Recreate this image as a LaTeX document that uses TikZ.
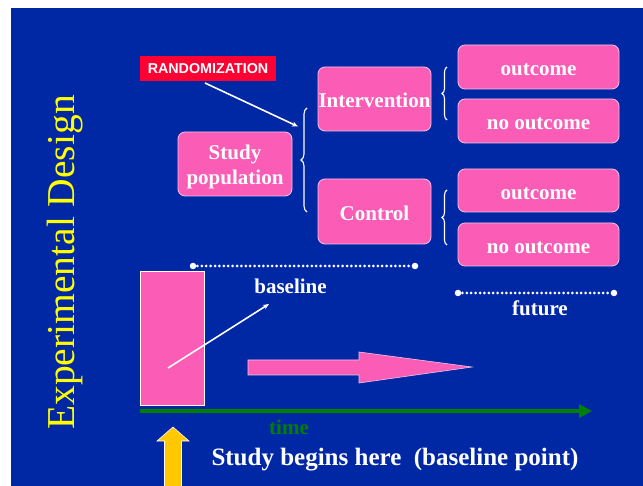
\documentclass[tikz,border=0pt]{standalone}
\usepackage{fontspec}
\setmainfont{Liberation Serif}
\newfontfamily\arialfont{Liberation Sans}
\usetikzlibrary{decorations.pathreplacing,arrows.meta}
\definecolor{slideblue}{RGB}{0,40,165}
\definecolor{boxpink}{RGB}{250,92,182}
\definecolor{boxedge}{RGB}{240,196,232}
\definecolor{randred}{RGB}{255,0,51}
\definecolor{axisgreen}{RGB}{0,128,0}
\definecolor{arrowyellow}{RGB}{255,200,0}
\definecolor{titleyellow}{RGB}{255,255,0}
\begin{document}
\begin{tikzpicture}[x=1pt,y=-1pt,
  boxframe/.style={draw=boxedge, fill=boxpink, line width=0.8pt, rounded corners=7pt,
    inner sep=0pt},
  box/.style={boxframe, text=white, align=center, text height=17.5pt, text depth=0pt,
    font=\bfseries\fontsize{21}{25}\selectfont},
  lbl/.style={text=white, inner sep=0pt, font=\bfseries\fontsize{21}{23}\selectfont},
  curly/.style={draw=white, line width=1.1pt, decorate,
    decoration={brace, amplitude=#1}},
  dotline/.style={draw=white, line width=3pt, line cap=round,
    dash pattern=on 0pt off 4.4pt},
  enddot/.style={fill=white, circle, inner sep=0pt, minimum size=6.5pt},
  pointer/.style={draw=white, line width=1.6pt, -{Stealth[length=6pt,width=5pt]}}
]
\useasboundingbox (0,0) rectangle (643,486);
\clip (0,0) rectangle (643,486);
% slide background
\fill[slideblue] (11,8) rectangle (643,486);

% vertical title
\node[rotate=90, text=titleyellow, inner sep=0pt,
  font=\fontsize{39.5}{40}\selectfont] (title) at (65.5,262.5) {Experimental Design};

% randomization tag
\node[fill=randred, text=white, minimum width=136pt, minimum height=25pt, inner sep=0pt,
  font=\arialfont\bfseries\fontsize{14.3}{15}\selectfont] (rand) at (208,68.5) {RANDOMIZATION};

% design tree
\node[boxframe, minimum width=114pt, minimum height=64pt] (pop) at (235,164) {};
\node[text=white, align=center, inner sep=0pt,
  font=\bfseries\fontsize{21}{25}\selectfont] (poptext) at (235,166.5) {Study\\population};
\node[box, minimum width=113pt, minimum height=64pt] (interv) at (374.5,99) {Intervention};
\node[box, minimum width=113pt, minimum height=65pt] (ctrl) at (374.5,211.5) {Control};
\node[box, minimum width=161pt, minimum height=44pt] (out1) at (538.5,67) {outcome};
\node[box, minimum width=161pt, minimum height=44pt] (noout1) at (538.5,121) {no outcome};
\node[box, minimum width=161pt, minimum height=43pt] (out2) at (538.5,190.5) {outcome};
\node[box, minimum width=161pt, minimum height=43pt] (noout2) at (538.5,244.5) {no outcome};

% braces
\coordinate (bigtop) at (307,108);
\coordinate (bigbot) at (307,212);
\draw[curly=6pt] (bigbot) -- (bigtop);
\coordinate (b1top) at (447,67);
\coordinate (b1bot) at (447,120);
\draw[curly=5pt] (b1bot) -- (b1top);
\coordinate (b2top) at (447,190);
\coordinate (b2bot) at (447,245);
\draw[curly=5pt] (b2bot) -- (b2top);

% randomization pointer
\coordinate (randfoot) at (205,83);
\coordinate (randtip) at (298,126.5);
\draw[pointer] (randfoot) -- (randtip);

% time periods
\coordinate (bstart) at (193,266);
\coordinate (bend) at (415,266);
\draw[dotline] (bstart) -- (bend);
\node[enddot] at (bstart) {};
\node[enddot] at (bend) {};
\node[lbl] (baselbl) at (290.5,286) {baseline};

\coordinate (fstart) at (458,293);
\coordinate (fend) at (614,293);
\draw[dotline] (fstart) -- (fend);
\node[enddot] at (fstart) {};
\node[enddot] at (fend) {};
\node[lbl] (futlbl) at (540,308) {future};

% baseline bar
\node[draw=white, line width=0.6pt, fill=boxpink, minimum width=64pt, minimum height=134pt,
  inner sep=0pt] (bar) at (172,338) {};
\coordinate (barpt) at (168,368);
\coordinate (basetip) at (269,304);
\draw[pointer] (barpt) -- (basetip);

% follow-up block arrow
\filldraw[fill=boxpink, draw=boxedge, line width=0.6pt]
  (248,360) -- (359,360) -- (359,352) -- (472,367) -- (359,383) -- (359,375) -- (248,375) -- cycle;

% time axis
\coordinate (axstart) at (140,411);
\coordinate (axend) at (592,411);
\draw[axisgreen, line width=4pt, -{Triangle[length=13pt,width=13pt]}] (axstart) -- (axend);
\node[lbl, text=axisgreen] (timelbl) at (289,427) {time};

% start marker
\filldraw[fill=arrowyellow, draw=white, line width=0.6pt]
  (164.5,490) -- (164.5,441) -- (157,441) -- (173,427) -- (189,441) -- (181.5,441) -- (181.5,490) -- cycle;
\node[lbl, font=\bfseries\fontsize{25}{27}\selectfont] (startlbl) at (395,460)
  {Study begins here\ \ (baseline point)};
\end{tikzpicture}
\end{document}
